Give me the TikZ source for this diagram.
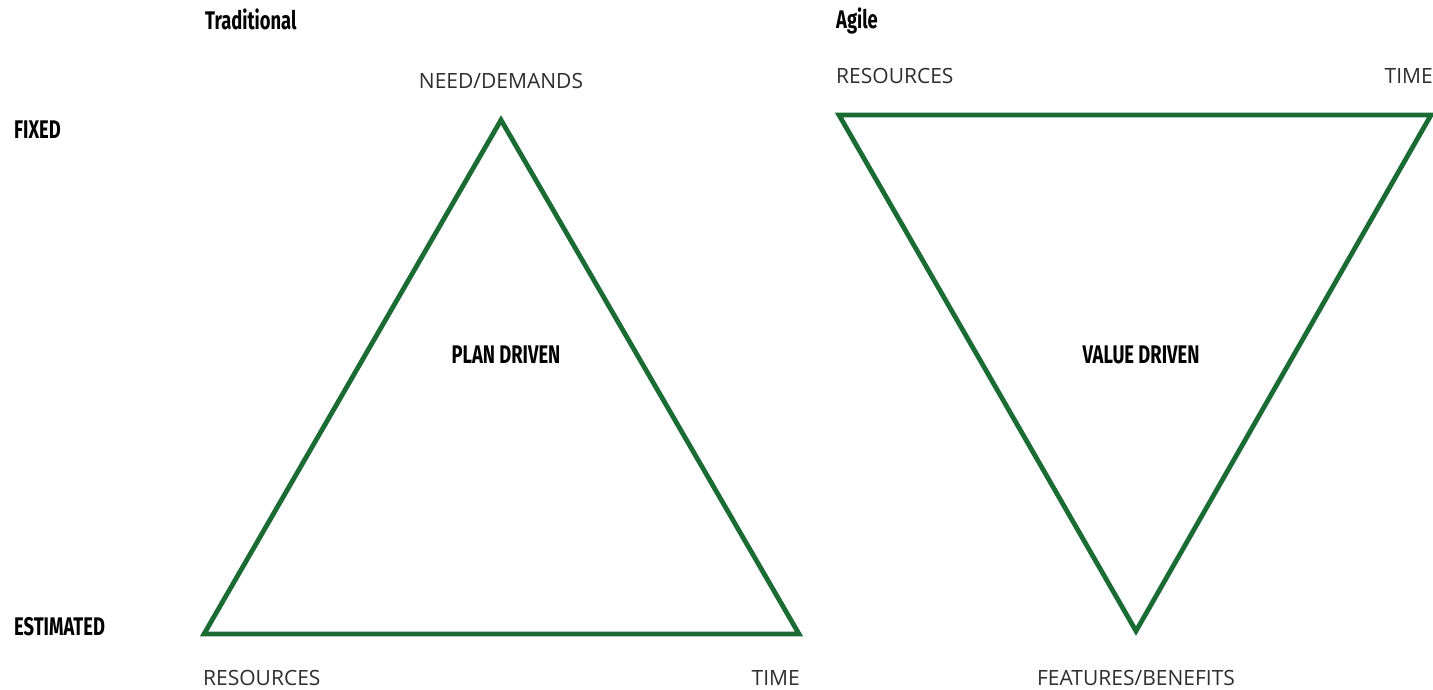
\documentclass[tikz,border=0pt]{standalone}
\usepackage{fontspec}
\setmainfont{Open Sans}
\newfontfamily\narrowfont{Fira Sans}
\definecolor{edgegreen}{HTML}{1A6B34}
\definecolor{labelgrey}{HTML}{2E2E2E}
\newcommand{\headtext}[1]{\scalebox{0.72}[1]{\narrowfont\bfseries #1}}
\tikzset{
  side/.style={draw=edgegreen, line width=4.8pt, line join=miter},
  corner/.style={font=\fontsize{21}{24}\selectfont, text=labelgrey, inner sep=0pt},
  heading/.style={font=\fontsize{25.5}{28}\selectfont, text=black, inner sep=0pt},
}
\begin{document}
\begin{tikzpicture}[x=1pt, y=-1pt]
\useasboundingbox (0,0) rectangle (1433,689);

% row labels
\node[heading, anchor=west] (fixed) at (14,130) {\headtext{FIXED}};
\node[heading, anchor=west] (estimated) at (14,627) {\headtext{ESTIMATED}};

% traditional triangle
\node[heading, anchor=west] (trad) at (205,19) {\headtext{Traditional}};
\coordinate (tA) at (501,120);
\coordinate (tL) at (204,634);
\coordinate (tR) at (799,634);
\draw[side] (tA) -- (tL) -- (tR) -- cycle;
\node[corner] (need) at (501,81) {NEED/DEMANDS};
\node[corner, anchor=west] (tres) at (203,678) {RESOURCES};
\node[corner, anchor=east] (ttime) at (800,678) {TIME};
\node[heading] (plan) at (506,355) {\headtext{PLAN DRIVEN}};

% agile triangle
\node[heading, anchor=west] (agile) at (836,21) {\headtext{Agile}};
\coordinate (aL) at (839,115);
\coordinate (aR) at (1431,115);
\coordinate (aB) at (1136,631);
\draw[side] (aL) -- (aR) -- (aB) -- cycle;
\node[corner, anchor=west] (ares) at (836,76) {RESOURCES};
\node[corner, anchor=east] (atime) at (1433,76) {TIME};
\node[corner] (feat) at (1136,678) {FEATURES/BENEFITS};
\node[heading] (value) at (1141,355) {\headtext{VALUE DRIVEN}};
\end{tikzpicture}
\end{document}
